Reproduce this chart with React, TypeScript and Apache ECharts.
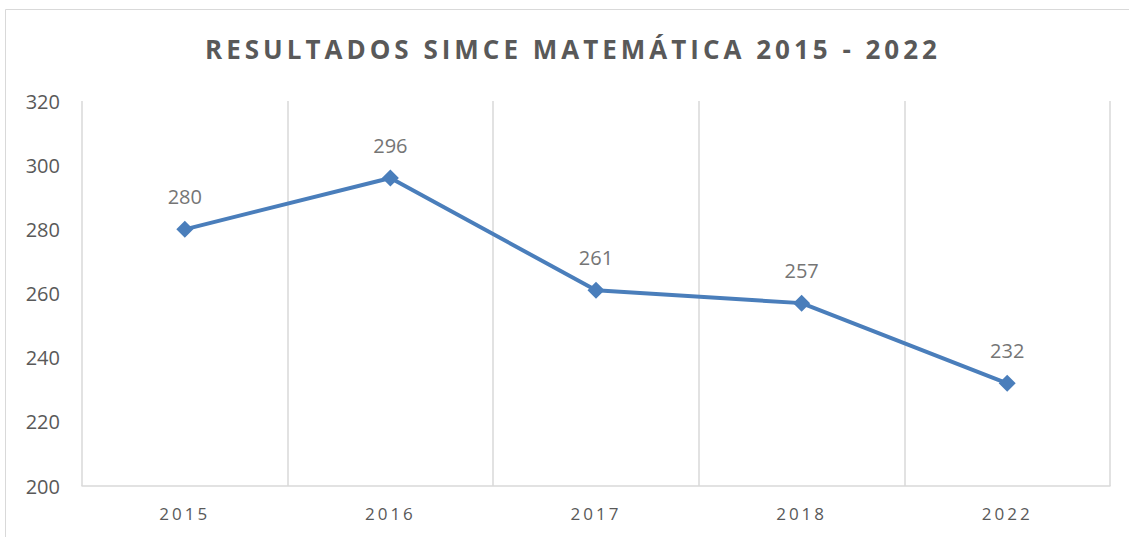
import React, { useEffect, useRef } from "react";
import * as echarts from "echarts";

const titleText = "RESULTADOS SIMCE MATEMÁTICA 2015 - 2022";
const years = ["2015", "2016", "2017", "2018", "2022"];
const scores = [280, 296, 261, 257, 232];
const yMin = 200;
const yMax = 320;
const yStep = 20;

export default function App() {
  const ref = useRef<HTMLDivElement>(null);
  useEffect(() => {
    if (!ref.current) return;
    const chart = echarts.init(ref.current, undefined, { renderer: "svg" });
    chart.setOption({
      animation: false,
      backgroundColor: "#ffffff",
      title: {
        text: titleText,
        left: 200,
        top: 31,
        textStyle: {
          fontFamily: "Open Sans",
          fontWeight: "bold",
          fontSize: 26,
          color: "#595959",
        },
      },
      graphic: [
        {
          type: "rect",
          shape: { x: 5.5, y: 9.5, width: 1300, height: 700 },
          style: { fill: "none", stroke: "#d9d9d9", lineWidth: 1 },
          silent: true,
        },
      ],
      grid: { left: 82, right: 19, top: 101, bottom: 51 },
      xAxis: {
        type: "category",
        data: years,
        boundaryGap: true,
        axisLine: { lineStyle: { color: "#d9d9d9", width: 1.5 } },
        axisTick: { show: false },
        axisLabel: {
          color: "#595959",
          fontFamily: "Open Sans",
          fontSize: 17,
          margin: 19,
        },
        splitLine: { show: true, lineStyle: { color: "#d9d9d9", width: 1.5 } },
      },
      yAxis: {
        type: "value",
        min: yMin,
        max: yMax,
        interval: yStep,
        axisLine: { show: false },
        axisTick: { show: false },
        splitLine: { show: false },
        axisLabel: {
          color: "#595959",
          fontFamily: "Open Sans",
          fontSize: 20,
          margin: 22,
        },
      },
      series: [
        {
          type: "line",
          data: scores,
          symbol: "diamond",
          symbolSize: 17,
          lineStyle: { color: "#4a7ebb", width: 4 },
          itemStyle: { color: "#4a7ebb" },
          label: {
            show: true,
            position: "top",
            distance: 14,
            color: "#757575",
            fontFamily: "Open Sans",
            fontSize: 20,
          },
        },
      ],
    });
    const applySpacing = () => {
      const root = ref.current;
      if (!root) return;
      root.querySelectorAll("text").forEach((t) => {
        const s = t.textContent || "";
        if (s === titleText) {
          t.style.letterSpacing = "4px";
        } else if (years.includes(s)) {
          t.style.letterSpacing = "3px";
        }
      });
    };
    applySpacing();
    chart.on("finished", applySpacing);
    return () => chart.dispose();
  }, []);
  return (
    <div
      ref={ref}
      style={{ position: "fixed", left: 0, top: 0, width: 1129, height: 537 }}
    />
  );
}
